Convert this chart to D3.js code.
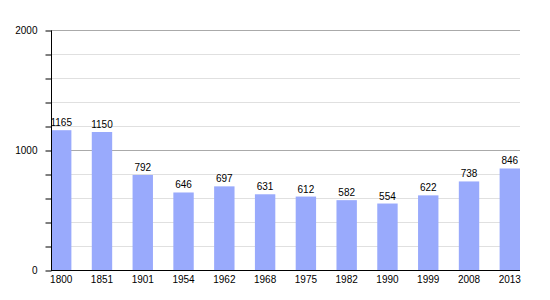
<!DOCTYPE html>
<html>
<head>
<meta charset="utf-8">
<script src="https://cdnjs.cloudflare.com/ajax/libs/d3/7.8.5/d3.min.js"></script>
<style>
  body { margin: 0; background: #fff; }
  text { font-family: "Liberation Sans", Arial, sans-serif; font-size: 10px; fill: #000; }
</style>
</head>
<body>
<svg id="screen" width="550" height="300"></svg>
<script>
// Data
var years = ["1800","1851","1901","1954","1962","1968","1975","1982","1990","1999","2008","2013"];
var population = [1165,1150,792,646,697,631,612,582,554,622,738,846];
var majorTicks = [0,1000,2000];
var minorTicks = [200,400,600,800,1200,1400,1600,1800];

// Layout (plot box)
var plotLeft = 51, plotRight = 520, plotTop = 30, plotBottom = 270;
var svg = d3.select("#screen");

// bars sit at the start of each band, first one against the axis, last one at the right edge
var x = d3.scaleBand()
    .domain(years)
    .range([plotLeft, plotRight])
    .paddingInner(0.5)
    .paddingOuter(0);

var y = d3.scaleLinear().domain([0,2000]).range([plotBottom, plotTop]);

// Grid lines
svg.append("g").selectAll("line")
    .data(minorTicks).enter().append("line")
    .attr("x1", plotLeft).attr("x2", plotRight)
    .attr("y1", function(d){ return y(d) + 0.5; })
    .attr("y2", function(d){ return y(d) + 0.5; })
    .style("stroke", "#e0e0e0");
svg.append("g").selectAll("line")
    .data(majorTicks.slice(1)).enter().append("line")
    .attr("x1", plotLeft).attr("x2", plotRight)
    .attr("y1", function(d){ return y(d) + 0.5; })
    .attr("y2", function(d){ return y(d) + 0.5; })
    .style("stroke", "#aaaaaa");

// Bars
svg.append("g").selectAll("rect")
    .data(population).enter().append("rect")
    .attr("x", function(d,i){ return x(years[i]); })
    .attr("y", function(d){ return y(d); })
    .attr("width", x.bandwidth())
    .attr("height", function(d){ return plotBottom - y(d); })
    .style("fill", "#99aafc");

// Value labels
svg.append("g").selectAll("text")
    .data(population).enter().append("text")
    .attr("x", function(d,i){ return x(years[i]) + x.bandwidth()/2; })
    .attr("y", function(d){ return y(d) - 4; })
    .attr("text-anchor", "middle")
    .text(function(d){ return d; });

// Y axis
var yAxis = d3.axisLeft(y)
    .tickValues(majorTicks.concat(minorTicks))
    .tickSize(6)
    .tickFormat(function(d){ return majorTicks.indexOf(d) > -1 ? d : ""; });
var gy = svg.append("g").attr("transform", "translate(" + (plotLeft + 0.5) + ",0.5)").call(yAxis);
gy.attr("font-family", null).attr("font-size", null);
gy.select(".domain").attr("d", "M0," + plotTop + "V" + plotBottom).style("stroke", "#000");
gy.selectAll(".tick line").style("stroke", "#000");
gy.selectAll(".tick text").attr("x", -14);

// X axis
var xAxis = d3.axisBottom(x).tickSize(0).tickPadding(5);
var gx = svg.append("g").attr("transform", "translate(0," + (plotBottom + 0.5) + ")").call(xAxis);
gx.attr("font-family", null).attr("font-size", null);
gx.select(".domain").attr("d", "M" + plotLeft + ",0H" + plotRight).style("stroke", "#000");
</script>
</body>
</html>
